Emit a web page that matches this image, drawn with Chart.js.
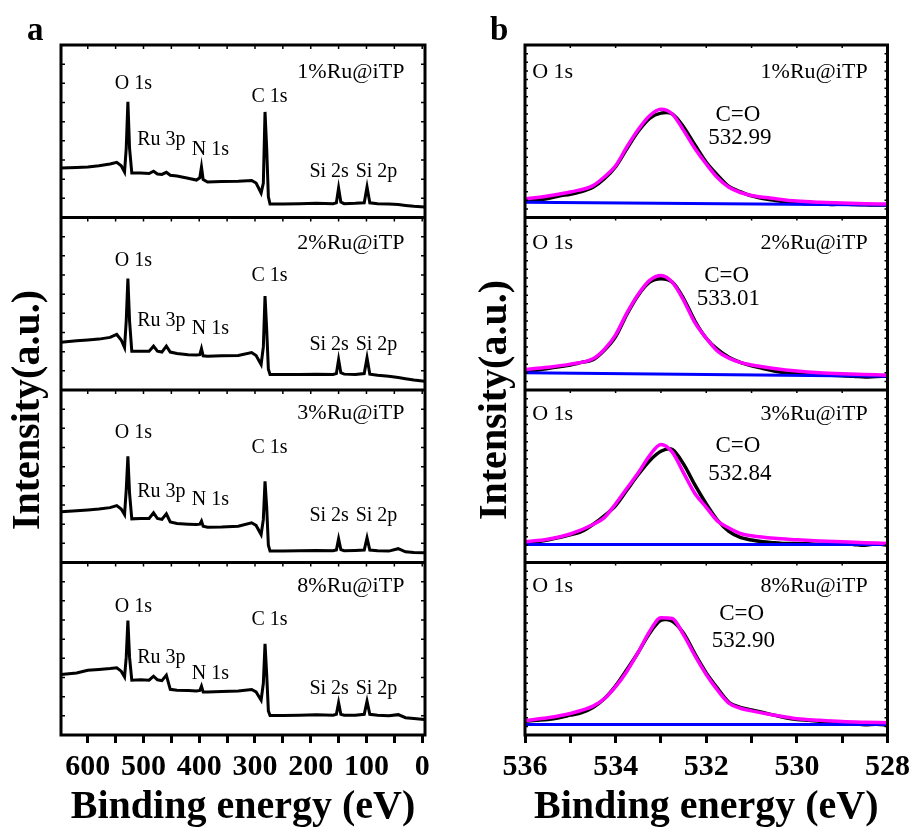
<!DOCTYPE html>
<html>
<head>
<meta charset="utf-8">
<script src="https://cdn.jsdelivr.net/npm/chart.js@4.4.0/dist/chart.umd.min.js"></script>
<style>
  body { margin: 0; background: #fff; }
  #wrap { position: relative; width: 916px; height: 832px; }
  canvas { position: absolute; top: 0; }
</style>
</head>
<body>
<div id="wrap">
  <canvas id="surveyChart" width="458" height="832" style="left:0"></canvas>
  <canvas id="o1sChart" width="458" height="832" style="left:458px"></canvas>
</div>
<script>
// Samples (top to bottom)
const samples = ['1%Ru@iTP', '2%Ru@iTP', '3%Ru@iTP', '8%Ru@iTP'];

// Survey spectra (panel a), intensity as fraction of each sub-panel
const surveyBE = [648, 620, 600, 580, 560, 548, 540, 534, 531, 528,
                  525, 521, 505, 490, 482, 475, 467, 459, 452, 440,
                  420, 405, 399, 396, 393, 385, 360, 330, 306, 298,
                  289, 285, 282, 279, 276, 273, 250, 220, 190, 160,
                  154, 150, 146, 140, 120, 104, 99, 94, 80, 60,
                  43, 30, 15, -4];
const survey1 = [0.287, 0.29, 0.293, 0.30, 0.31, 0.32, 0.30, 0.264, 0.40, 0.67,
                 0.40, 0.258, 0.258, 0.255, 0.268, 0.252, 0.250, 0.262, 0.245, 0.24,
                 0.228, 0.217, 0.23, 0.293, 0.22, 0.206, 0.208, 0.21, 0.215, 0.20,
                 0.142, 0.20, 0.612, 0.40, 0.12, 0.078, 0.078, 0.08, 0.082, 0.08,
                 0.085, 0.171, 0.09, 0.08, 0.082, 0.085, 0.177, 0.085, 0.08, 0.078,
                 0.075, 0.07, 0.065, 0.061];
const survey2 = [0.277, 0.285, 0.29, 0.295, 0.305, 0.322, 0.29, 0.246, 0.40, 0.646,
                 0.40, 0.225, 0.225, 0.225, 0.254, 0.225, 0.22, 0.254, 0.22, 0.212,
                 0.205, 0.203, 0.205, 0.24, 0.198, 0.196, 0.198, 0.20, 0.217, 0.20,
                 0.148, 0.25, 0.544, 0.35, 0.12, 0.09, 0.09, 0.09, 0.092, 0.09,
                 0.095, 0.177, 0.10, 0.092, 0.09, 0.095, 0.187, 0.092, 0.085, 0.08,
                 0.072, 0.065, 0.058, 0.051];
const survey3 = [0.294, 0.30, 0.305, 0.31, 0.318, 0.33, 0.31, 0.278, 0.42, 0.616,
                 0.40, 0.253, 0.255, 0.255, 0.288, 0.255, 0.25, 0.282, 0.235, 0.226,
                 0.222, 0.22, 0.222, 0.24, 0.21, 0.205, 0.206, 0.21, 0.23, 0.215,
                 0.162, 0.25, 0.471, 0.32, 0.10, 0.066, 0.066, 0.068, 0.07, 0.068,
                 0.072, 0.137, 0.075, 0.068, 0.07, 0.072, 0.143, 0.072, 0.068, 0.066,
                 0.08, 0.062, 0.058, 0.056];
const survey4 = [0.351, 0.36, 0.375, 0.38, 0.385, 0.39, 0.37, 0.337, 0.45, 0.664,
                 0.45, 0.318, 0.32, 0.318, 0.341, 0.32, 0.315, 0.347, 0.265, 0.26,
                 0.258, 0.255, 0.258, 0.283, 0.25, 0.25, 0.252, 0.255, 0.264, 0.25,
                 0.202, 0.30, 0.529, 0.35, 0.14, 0.113, 0.113, 0.115, 0.118, 0.115,
                 0.12, 0.187, 0.12, 0.115, 0.115, 0.12, 0.196, 0.12, 0.115, 0.112,
                 0.118, 0.10, 0.095, 0.09];

// Peak labels of the survey
const peakNames = ['O 1s', 'Ru 3p', 'N 1s', 'C 1s', 'Si 2s', 'Si 2p'];
const peakLabelBE = [518, 468, 380, 274, 167, 82];
const peakLabelV = [
  [0.778, 0.449, 0.391, 0.70, 0.266, 0.266],
  [0.747, 0.399, 0.355, 0.664, 0.264, 0.264],
  [0.752, 0.408, 0.365, 0.665, 0.272, 0.272],
  [0.743, 0.448, 0.357, 0.666, 0.268, 0.268]
];
const sampleLabelV = [0.845, 0.853, 0.868, 0.863];

// O 1s high resolution (panel b)
const rawBE = [536, 535.75, 535.5, 535.25, 535, 534.75, 534.5, 534.25, 534, 533.75,
               533.5, 533.25, 533, 532.75, 532.5, 532.25, 532, 531.75, 531.5, 531.25,
               531, 530.75, 530.5, 530.25, 530, 529.75, 529.5, 529.25, 529, 528.75,
               528.5, 528.25, 528];
const raw1 = [0.095, 0.10, 0.11, 0.125, 0.135, 0.15, 0.175, 0.225, 0.295, 0.40,
              0.50, 0.575, 0.605, 0.60, 0.525, 0.42, 0.32, 0.245, 0.18, 0.15,
              0.125, 0.11, 0.10, 0.09, 0.085, 0.08, 0.08, 0.076, 0.078, 0.075,
              0.074, 0.072, 0.073];
const raw2 = [0.11, 0.115, 0.125, 0.135, 0.145, 0.16, 0.175, 0.23, 0.31, 0.44,
              0.55, 0.625, 0.645, 0.625, 0.53, 0.40, 0.30, 0.235, 0.19, 0.16,
              0.14, 0.125, 0.11, 0.10, 0.095, 0.09, 0.09, 0.085, 0.083, 0.08,
              0.075, 0.078, 0.08];
const raw3 = [0.115, 0.12, 0.13, 0.145, 0.16, 0.18, 0.22, 0.27, 0.33, 0.42,
              0.51, 0.59, 0.645, 0.655, 0.57, 0.45, 0.34, 0.245, 0.18, 0.145,
              0.13, 0.12, 0.115, 0.11, 0.11, 0.108, 0.106, 0.108, 0.11, 0.105,
              0.10, 0.108, 0.10];
const raw4 = [0.08, 0.085, 0.09, 0.10, 0.115, 0.13, 0.16, 0.21, 0.285, 0.38,
              0.48, 0.59, 0.665, 0.66, 0.59, 0.47, 0.36, 0.27, 0.19, 0.16,
              0.145, 0.13, 0.115, 0.10, 0.09, 0.085, 0.08, 0.075, 0.07, 0.065,
              0.06, 0.062, 0.058];

const fitBE = [536, 535.5, 535, 534.5, 534.25, 534, 533.75, 533.5, 533.25, 533,
               532.75, 532.5, 532.25, 532, 531.75, 531.5, 531.25, 531, 530.5, 530,
               529.5, 529, 528.5, 528];
const fit1 = [0.107, 0.125, 0.148, 0.185, 0.235, 0.30, 0.41, 0.51, 0.59, 0.627,
              0.60, 0.505, 0.40, 0.31, 0.23, 0.175, 0.145, 0.128, 0.11, 0.095,
              0.088, 0.084, 0.08, 0.078];
const fit2 = [0.119, 0.132, 0.15, 0.181, 0.235, 0.32, 0.447, 0.555, 0.635, 0.664,
              0.625, 0.52, 0.39, 0.30, 0.225, 0.185, 0.16, 0.145, 0.125, 0.11,
              0.10, 0.094, 0.09, 0.086];
const fit3 = [0.12, 0.135, 0.165, 0.22, 0.26, 0.34, 0.43, 0.52, 0.62, 0.684,
              0.64, 0.52, 0.40, 0.32, 0.24, 0.20, 0.168, 0.155, 0.14, 0.132,
              0.125, 0.12, 0.115, 0.11];
const fit4 = [0.084, 0.10, 0.125, 0.167, 0.21, 0.28, 0.37, 0.48, 0.60, 0.68,
              0.675, 0.58, 0.46, 0.351, 0.26, 0.185, 0.155, 0.14, 0.115, 0.094,
              0.085, 0.078, 0.074, 0.071];

const baseBE = [536, 528];
const base1 = [0.088, 0.072];
const base2 = [0.10, 0.08];
const base3 = [0.104, 0.104];
const base4 = [0.061, 0.061];

const peakPositions = ['532.99', '533.01', '532.84', '532.90'];
const o1sLabelV = [0.845, 0.853, 0.858, 0.863];
const bondLabelBE = [531.3, 531.55, 531.3, 531.22];
const bondLabelV = [0.594, 0.66, 0.674, 0.699];
const posLabelV = [0.459, 0.525, 0.514, 0.544];

const surveys = [survey1, survey2, survey3, survey4];
const raws = [raw1, raw2, raw3, raw4];
const fits = [fit1, fit2, fit3, fit4];
const bases = [base1, base2, base3, base4];

const serif = '"Liberation Serif", "Times New Roman", serif';

// sub-panel i (0 = top) sits between y = 3-i and 4-i
function stack(xs, vs, i) {
  return xs.map((x, k) => ({ x: x, y: 3 - i + vs[k] }));
}

// Frame, dividers, inner ticks and text labels
const framePlugin = {
  id: 'frame',
  afterDatasetsDraw(chart, args, opts) {
    const { ctx, chartArea: a, scales: { x, y } } = chart;
    ctx.save();
    ctx.strokeStyle = '#000';
    ctx.lineWidth = 3;
    ctx.strokeRect(a.left, a.top, a.right - a.left, a.bottom - a.top);
    ctx.beginPath();
    for (let i = 1; i < 4; i++) {
      const py = y.getPixelForValue(i);
      ctx.moveTo(a.left, py);
      ctx.lineTo(a.right, py);
    }
    ctx.stroke();

    ctx.lineWidth = 1.5;
    ctx.beginPath();
    for (let i = 0; i < 4; i++) {
      for (let k = 1; k < opts.yMinor; k++) {
        const py = y.getPixelForValue(i + k / opts.yMinor);
        ctx.moveTo(a.left, py); ctx.lineTo(a.left + opts.len, py);
        ctx.moveTo(a.right, py); ctx.lineTo(a.right - opts.len, py);
      }
    }
    x.ticks.forEach(t => {
      const px = x.getPixelForValue(t.value);
      for (let i = 1; i <= 4; i++) {
        const py = y.getPixelForValue(i);
        ctx.moveTo(px, py); ctx.lineTo(px, py + opts.len);
      }
    });
    ctx.stroke();

    ctx.fillStyle = '#000';
    ctx.textAlign = 'center';
    ctx.textBaseline = 'middle';
    opts.notes.forEach(n => {
      ctx.font = n.size + 'px ' + serif;
      ctx.fillText(n.text, x.getPixelForValue(n.x), y.getPixelForValue(n.y));
    });

    ctx.font = 'bold 33px ' + serif;
    ctx.textAlign = 'left';
    ctx.textBaseline = 'alphabetic';
    ctx.fillText(opts.letter, opts.letterX, 40);
    ctx.restore();
  }
};

// trailing spaces push the rotated title a little down, as in the figure
function axes(xOpts, yWidth, titlePad, yTitle) {
  return {
    x: Object.assign({
      type: 'linear',
      reverse: true,
      ticks: {
        includeBounds: false, autoSkip: false, maxRotation: 0, padding: 6, color: '#000',
        font: { family: serif, size: 30, weight: 'bold' }
      },
      grid: { display: true, drawOnChartArea: false, drawTicks: true, tickLength: 8,
              lineWidth: 3, tickWidth: 3, color: '#000', tickColor: '#000' },
      border: { display: false },
      title: { display: true, text: 'Binding energy (eV)', color: '#000', padding: 0,
               font: { family: serif, size: 40, weight: 'bold', lineHeight: 1.2 } },
      afterFit: s => { s.height = 97; }
    }, xOpts),
    y: {
      min: 0, max: 4,
      ticks: { display: false },
      grid: { display: false },
      border: { display: false },
      title: { display: true, text: yTitle, color: '#000',
               padding: { top: titlePad, bottom: 0 },
               font: { family: serif, size: 40, weight: 'bold', lineHeight: 1.2 } },
      afterFit: s => { s.width = yWidth; }
    }
  };
}

// Panel a: survey
const surveySets = surveys.map((s, i) => ({
  data: stack(surveyBE, s, i),
  borderColor: '#000', borderWidth: 3, pointRadius: 0, tension: 0
}));

const surveyNotes = [];
samples.forEach((name, i) => {
  surveyNotes.push({ text: name, x: 128, y: 3 - i + sampleLabelV[i], size: 22 });
  peakNames.forEach((p, j) => {
    surveyNotes.push({ text: p, x: peakLabelBE[j], y: 3 - i + peakLabelV[i][j], size: 20 });
  });
});

const xA = axes({ min: -5, max: 648 }, 61, 5, 'Intensity(a.u.)\u00a0\u00a0\u00a0\u00a0');
xA.x.ticks.stepSize = 50;
xA.x.ticks.callback = v => (v % 100 === 0 ? v : '');

new Chart(document.getElementById('surveyChart'), {
  type: 'line',
  data: { datasets: surveySets },
  options: {
    responsive: false, animation: false, devicePixelRatio: 1,
    layout: { padding: { left: 0, right: 33, top: 45, bottom: 0 } },
    plugins: {
      legend: { display: false }, tooltip: { enabled: false },
      frame: { notes: surveyNotes, yMinor: 9, len: 4, letter: 'a', letterX: 27 }
    },
    scales: xA
  },
  plugins: [framePlugin]
});

// Panel b: O 1s
const o1sSets = [];
samples.forEach((name, i) => {
  o1sSets.push({ data: stack(rawBE, raws[i], i), borderColor: '#000', borderWidth: 3.5,
                 pointRadius: 0, tension: 0.3, order: 3 });
  o1sSets.push({ data: stack(baseBE, bases[i], i), borderColor: '#0000ff', borderWidth: 3,
                 pointRadius: 0, tension: 0, order: 2 });
  o1sSets.push({ data: stack(fitBE, fits[i], i), borderColor: '#ff00ff', borderWidth: 3.5,
                 pointRadius: 0, cubicInterpolationMode: 'monotone', order: 1 });
});

const o1sNotes = [];
samples.forEach((name, i) => {
  o1sNotes.push({ text: 'O 1s', x: 535.39, y: 3 - i + o1sLabelV[i], size: 22 });
  o1sNotes.push({ text: name, x: 529.62, y: 3 - i + o1sLabelV[i], size: 22 });
  o1sNotes.push({ text: 'C=O', x: bondLabelBE[i], y: 3 - i + bondLabelV[i], size: 23 });
  o1sNotes.push({ text: peakPositions[i], x: bondLabelBE[i] - 0.04, y: 3 - i + posLabelV[i], size: 23 });
});

const xB = axes({ min: 528, max: 536 }, 67, 14, 'Intensity(a.u.)\u00a0\u00a0');
xB.x.ticks.stepSize = 1;
xB.x.ticks.callback = v => (v % 2 === 0 ? v : '');

new Chart(document.getElementById('o1sChart'), {
  type: 'line',
  data: { datasets: o1sSets },
  options: {
    responsive: false, animation: false, devicePixelRatio: 1,
    layout: { padding: { left: 0, right: 28, top: 45, bottom: 0 } },
    plugins: {
      legend: { display: false }, tooltip: { enabled: false },
      frame: { notes: o1sNotes, yMinor: 20, len: 3, letter: 'b', letterX: 32 }
    },
    scales: xB
  },
  plugins: [framePlugin]
});
</script>
</body>
</html>
